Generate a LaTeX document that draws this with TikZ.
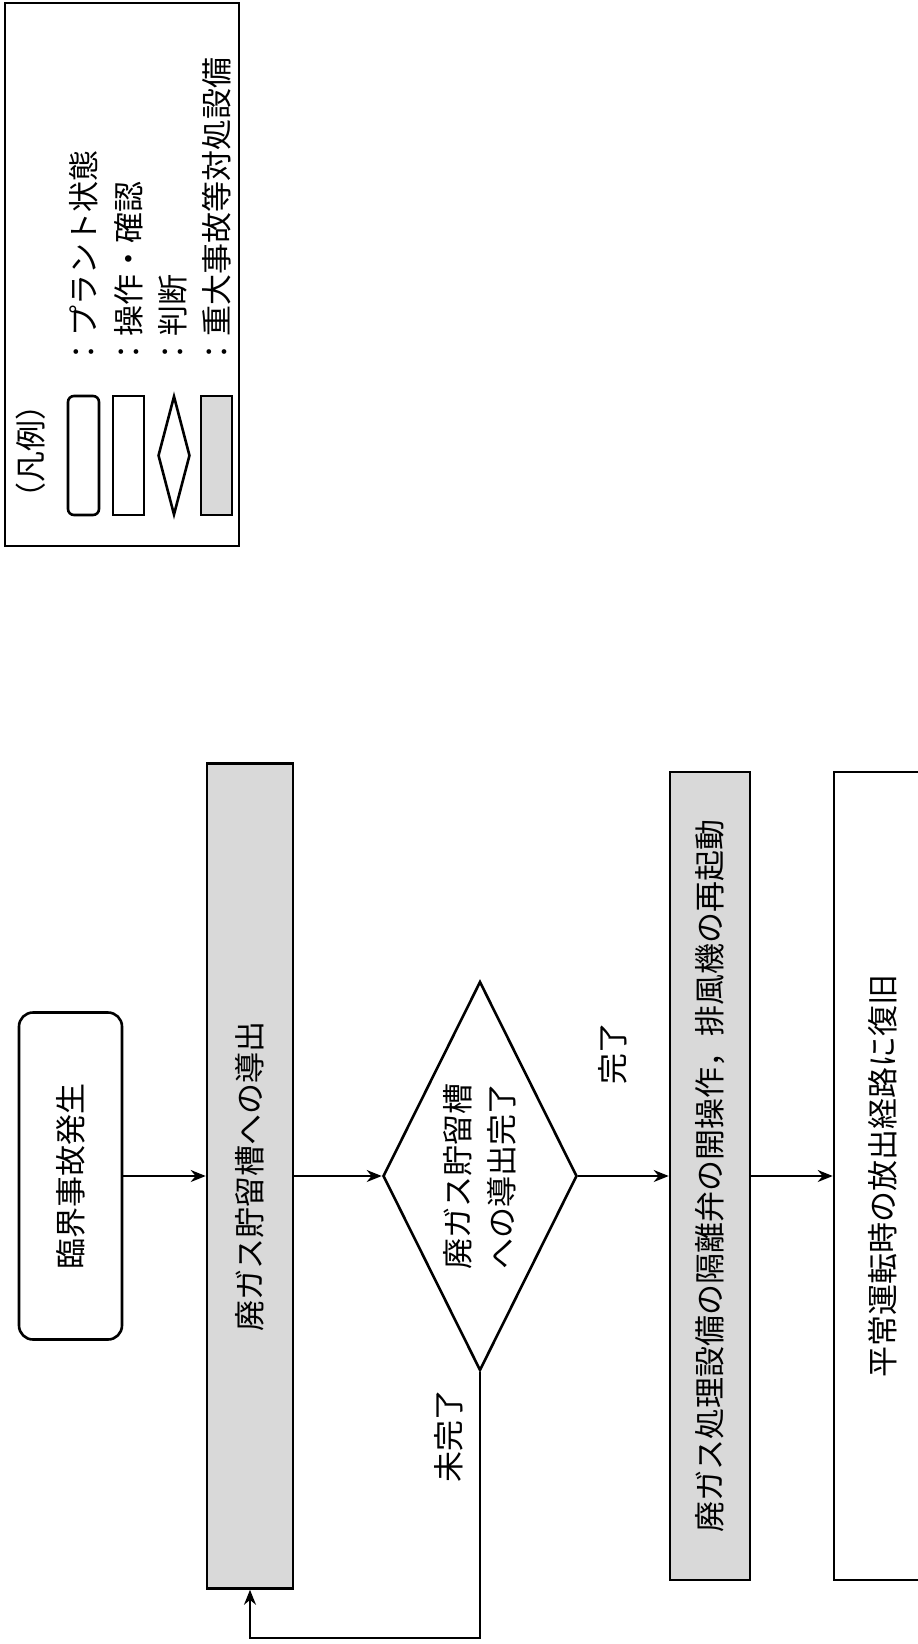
\documentclass[tikz,border=0pt]{standalone}
\usepackage{fontspec}
\setmainfont{Noto Sans CJK JP}
\usetikzlibrary{arrows.meta,shapes.geometric}
\definecolor{boxgrey}{HTML}{D9D9D9}
\begin{document}
\begin{tikzpicture}[x=1pt,y=-1pt,
  base/.style={draw=black, line width=2.6pt, inner sep=0pt, rotate=90, font=\fontsize{31}{44}\selectfont, align=center},
  plant/.style={base, rounded corners=14pt, fill=white},
  opbox/.style={base, fill=white},
  sabox/.style={base, fill=boxgrey},
  judge/.style={base, diamond, aspect=2, fill=white},
  lbl/.style={rotate=90, inner sep=0pt, font=\fontsize{31}{44}\selectfont},
  arr/.style={-{Stealth[length=15pt,width=12pt]}, line width=1.9pt}]
\useasboundingbox (0,0) rectangle (918,1644);
\clip (0,0) rectangle (918,1644);
\fill[white] (0,0) rectangle (918,1644);

% legend
\node[draw=black, line width=2.2pt, minimum width=234pt, minimum height=543pt, inner sep=0pt] (legend) at (122,274.5) {};
\node[lbl] (legtitle) at (31,451) {（凡例）};
\node[plant, minimum width=119pt, minimum height=31pt, rounded corners=6pt] (lg1) at (83.5,455.5) {};
\node[opbox, minimum width=119pt, minimum height=31pt] (lg2) at (128.5,455.5) {};
\node[judge, minimum width=119pt, minimum height=32pt] (lg3) at (174,455.5) {};
\node[sabox, minimum width=119pt, minimum height=31pt] (lg4) at (216.5,455.5) {};
\node[lbl, anchor=west] (lt1) at (84,368) {：プラント状態};
\node[lbl, anchor=west] (lt2) at (129,368) {：操作・確認};
\node[lbl, anchor=west] (lt3) at (173,368) {：判断};
\node[lbl, anchor=west] (lt4) at (217,368) {：重大事故等対処設備};

% flow
\node[plant, minimum width=327pt, minimum height=103pt] (r1) at (70.5,1176) {臨界事故発生};
\node[sabox, minimum width=825pt, minimum height=86pt] (b1) at (250,1176) {廃ガス貯留槽への導出};
\node[judge, minimum width=389pt, minimum height=194pt] (d) at (480,1176) {廃ガス貯留槽\\への導出完了};
\node[sabox, minimum width=808pt, minimum height=80pt] (b2) at (710,1176) {廃ガス処理設備の隔離弁の開操作，排風機の再起動};
\node[opbox, minimum width=808pt, minimum height=98pt] (b3) at (883,1176) {平常運転時の放出経路に復旧};

\draw[arr] (r1) -- (b1);
\draw[arr] (b1) -- (d);
\draw[arr] (d) -- (b2);
\draw[arr] (b2) -- (b3);
\coordinate (lp) at (480,1638);
\draw[arr] (d.west) -- (lp) -| (b1.west);

\node[lbl] (ok) at (613,1053) {完了};
\node[lbl] (ng) at (449,1436) {未完了};
\end{tikzpicture}
\end{document}
